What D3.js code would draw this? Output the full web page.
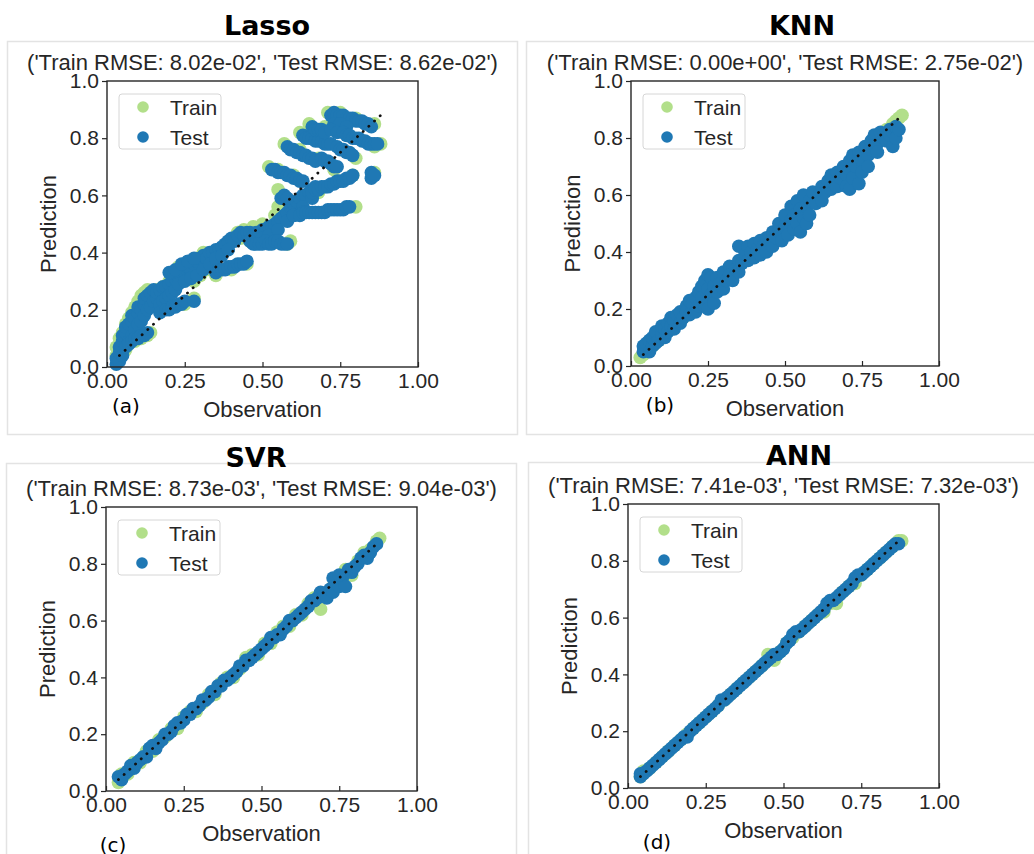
<!DOCTYPE html>
<html lang="en">
<head>
<meta charset="UTF-8">
<title>Observation vs Prediction</title>
<script src="https://cdnjs.cloudflare.com/ajax/libs/d3/7.8.5/d3.min.js"></script>
<style>
    body { margin: 0; background: #fff; }
    .tick text { font-family: "Liberation Sans", Arial, sans-serif; font-size: 21px; fill: #262626; }
    .tick line { stroke: #262626; stroke-width: 1.2; }
</style>
</head>
<body>
<div id="chart"></div>
<script>
// model names, subtitles and panel letters
const modelNames = ["Lasso", "KNN", "SVR", "ANN"];
const rmseLabels = [
    "('Train RMSE: 8.02e-02', 'Test RMSE: 8.62e-02')",
    "('Train RMSE: 0.00e+00', 'Test RMSE: 2.75e-02')",
    "('Train RMSE: 8.73e-03', 'Test RMSE: 9.04e-03')",
    "('Train RMSE: 7.41e-03', 'Test RMSE: 7.32e-03')"
];
const panelLetters = ["(a)", "(b)", "(c)", "(d)"];
const xTicks = [0, 0.25, 0.5, 0.75, 1.0];
const yTicks = [0, 0.2, 0.4, 0.6, 0.8, 1.0];
const refLine = [0.04, 0.88];

// [observation, prediction]
const lassoTrain = [
    [0.03,0.04],[0.03,0.07],[0.04,0.10],[0.05,0.12],[0.06,0.15],[0.07,0.17],[0.08,0.19],[0.09,0.21],[0.10,0.23],[0.11,0.25],
    [0.12,0.26],[0.13,0.27],[0.06,0.06],[0.09,0.09],[0.11,0.10],[0.13,0.11],[0.14,0.12],[0.16,0.27],[0.18,0.28],[0.20,0.30],
    [0.22,0.33],[0.23,0.35],[0.25,0.36],[0.27,0.37],[0.29,0.38],[0.31,0.40],[0.28,0.30],[0.30,0.32],[0.32,0.34],[0.35,0.32],
    [0.40,0.34],[0.45,0.36],[0.37,0.40],[0.40,0.44],[0.42,0.47],[0.43,0.45],[0.44,0.48],[0.47,0.49],[0.50,0.50],[0.54,0.53],
    [0.55,0.56],[0.55,0.62],[0.57,0.59],[0.58,0.43],[0.59,0.44],[0.60,0.55],[0.62,0.57],[0.65,0.60],[0.68,0.61],[0.52,0.70],
    [0.55,0.69],[0.60,0.67],[0.57,0.78],[0.62,0.76],[0.62,0.82],[0.66,0.80],[0.65,0.85],[0.70,0.84],[0.71,0.89],[0.75,0.89],
    [0.80,0.87],[0.86,0.85],[0.88,0.78],[0.86,0.77],[0.80,0.56],[0.79,0.67],[0.68,0.73],[0.73,0.69],[0.80,0.73],[0.25,0.22],
    [0.18,0.20],[0.28,0.24],[0.46,0.44],[0.86,0.68]
];
const lassoTest = [
    [0.03,0.01],[0.03,0.03],[0.04,0.02],[0.04,0.05],[0.04,0.07],[0.05,0.04],[0.05,0.09],[0.05,0.11],[0.06,0.07],[0.06,0.12],
    [0.06,0.14],[0.07,0.09],[0.07,0.15],[0.08,0.11],[0.08,0.16],[0.08,0.18],[0.09,0.13],[0.09,0.17],[0.10,0.15],[0.10,0.19],
    [0.10,0.21],[0.11,0.16],[0.11,0.20],[0.12,0.18],[0.12,0.22],[0.12,0.24],[0.13,0.20],[0.13,0.25],[0.14,0.21],[0.14,0.26],
    [0.15,0.23],[0.15,0.27],[0.16,0.24],[0.16,0.26],[0.17,0.27],[0.18,0.28],[0.19,0.28],[0.20,0.29],[0.21,0.30],[0.22,0.31],
    [0.23,0.32],[0.24,0.34],[0.25,0.33],[0.26,0.35],[0.27,0.34],[0.28,0.36],[0.29,0.37],[0.30,0.38],[0.31,0.39],[0.32,0.38],
    [0.33,0.40],[0.34,0.40],[0.35,0.41],[0.36,0.41],[0.37,0.42],[0.38,0.43],[0.39,0.44],[0.40,0.45],[0.41,0.44],[0.42,0.46],
    [0.43,0.47],[0.44,0.46],[0.45,0.47],
    [0.17,0.22],[0.18,0.23],[0.19,0.24],[0.20,0.25],[0.21,0.26],[0.22,0.27],[0.20,0.33],[0.22,0.34],[0.24,0.36],[0.26,0.37],
    [0.28,0.38],[0.23,0.29],[0.25,0.30],[0.27,0.31],[0.29,0.32],[0.31,0.34],[0.33,0.36],[0.35,0.38],[0.37,0.39],[0.39,0.41],
    [0.46,0.47],[0.47,0.46],[0.48,0.47],[0.49,0.47],[0.50,0.48],[0.51,0.48],[0.52,0.49],[0.53,0.49],[0.54,0.50],[0.55,0.51],
    [0.56,0.52],[0.57,0.53],[0.58,0.54],[0.59,0.56],[0.60,0.57],[0.61,0.58],[0.62,0.59],[0.63,0.60],[0.64,0.60],[0.65,0.61],
    [0.66,0.62],[0.67,0.63],[0.68,0.62],[0.56,0.59],[0.57,0.60],[0.58,0.59],
    [0.50,0.45],[0.52,0.46],[0.55,0.48],[0.58,0.51],[0.60,0.53],[0.63,0.56],[0.66,0.59],
    [0.07,0.08],[0.08,0.09],[0.09,0.10],[0.10,0.10],[0.11,0.11],[0.12,0.11],[0.13,0.12],
    [0.17,0.19],[0.19,0.20],[0.20,0.20],[0.21,0.21],[0.22,0.21],[0.23,0.22],[0.24,0.22],[0.25,0.23],[0.28,0.23],
    [0.35,0.33],[0.36,0.34],[0.37,0.34],[0.38,0.34],[0.39,0.35],[0.40,0.35],[0.41,0.35],[0.42,0.36],[0.43,0.36],[0.44,0.36],
    [0.45,0.37],
    [0.46,0.44],[0.47,0.43],[0.48,0.43],[0.49,0.43],[0.50,0.43],[0.51,0.44],[0.52,0.43],[0.53,0.43],[0.54,0.44],[0.55,0.44],
    [0.56,0.43],[0.57,0.43],[0.58,0.43],
    [0.60,0.53],[0.62,0.53],[0.63,0.54],[0.64,0.54],[0.65,0.54],[0.66,0.54],[0.67,0.54],[0.68,0.54],[0.69,0.54],[0.70,0.54],
    [0.71,0.55],[0.72,0.55],[0.73,0.55],[0.74,0.55],[0.75,0.55],[0.76,0.55],[0.77,0.56],[0.78,0.56],
    [0.66,0.61],[0.67,0.62],[0.68,0.62],[0.69,0.63],[0.70,0.63],[0.71,0.63],[0.72,0.64],[0.73,0.64],[0.74,0.65],[0.75,0.65],
    [0.76,0.65],[0.77,0.66],[0.78,0.66],[0.79,0.67],[0.85,0.66],[0.85,0.68],[0.86,0.67],
    [0.53,0.69],[0.54,0.69],[0.55,0.68],[0.56,0.68],[0.57,0.68],[0.58,0.67],[0.59,0.67],[0.60,0.66],[0.61,0.66],[0.62,0.65],
    [0.63,0.65],
    [0.58,0.77],[0.59,0.76],[0.60,0.76],[0.61,0.75],[0.62,0.75],[0.63,0.74],[0.64,0.74],[0.65,0.73],[0.66,0.73],[0.67,0.72],
    [0.63,0.81],[0.64,0.80],[0.65,0.80],[0.66,0.80],[0.67,0.79],[0.68,0.79],[0.69,0.79],[0.70,0.78],[0.71,0.78],[0.72,0.78],
    [0.66,0.84],[0.67,0.83],[0.68,0.83],[0.69,0.83],[0.70,0.82],
    [0.72,0.88],[0.73,0.89],[0.74,0.88],[0.75,0.88],[0.76,0.88],[0.77,0.87],[0.78,0.87],[0.79,0.87],[0.80,0.86],[0.81,0.86],
    [0.82,0.86],[0.83,0.85],[0.84,0.85],[0.85,0.84],[0.73,0.85],[0.75,0.85],[0.77,0.84],[0.72,0.83],[0.74,0.82],
    [0.76,0.82],[0.77,0.81],[0.78,0.81],[0.79,0.80],[0.80,0.80],[0.81,0.80],[0.82,0.79],[0.83,0.79],[0.84,0.78],[0.85,0.78],
    [0.86,0.78],[0.87,0.78],
    [0.69,0.73],[0.70,0.72],[0.71,0.72],[0.72,0.71],[0.73,0.70],[0.74,0.70],
    [0.74,0.77],[0.75,0.76],[0.76,0.76],[0.77,0.75],[0.78,0.75],[0.79,0.74]
];

const knnTrain = [
    [0.03,0.03],[0.04,0.04],[0.05,0.05],[0.07,0.07],[0.09,0.09],[0.11,0.11],[0.13,0.13],[0.15,0.15],[0.17,0.17],[0.19,0.19],
    [0.21,0.21],[0.23,0.23],[0.25,0.25],[0.27,0.27],[0.29,0.29],[0.31,0.31],[0.33,0.33],[0.35,0.35],[0.37,0.37],[0.39,0.39],
    [0.41,0.41],[0.43,0.43],[0.45,0.45],[0.47,0.47],[0.49,0.49],[0.51,0.51],[0.53,0.53],[0.55,0.55],[0.57,0.57],[0.59,0.59],
    [0.61,0.61],[0.63,0.63],[0.65,0.65],[0.67,0.67],[0.69,0.69],[0.71,0.71],[0.73,0.73],[0.75,0.75],[0.77,0.77],[0.79,0.79],
    [0.81,0.81],[0.83,0.83],[0.85,0.85],[0.86,0.86],[0.87,0.87],[0.88,0.88]
];
const knnTest = [
    [0.04,0.05],[0.04,0.07],[0.05,0.06],[0.05,0.08],[0.06,0.05],[0.06,0.09],[0.07,0.07],[0.07,0.10],[0.08,0.08],[0.08,0.12],
    [0.09,0.09],[0.10,0.11],[0.10,0.14],[0.11,0.10],[0.11,0.13],[0.12,0.15],[0.12,0.12],[0.13,0.17],[0.13,0.14],[0.14,0.13],
    [0.14,0.16],[0.15,0.18],[0.16,0.15],[0.16,0.19],[0.17,0.17],[0.18,0.21],[0.18,0.19],[0.19,0.23],[0.19,0.18],[0.20,0.20],
    [0.20,0.22],[0.21,0.19],[0.21,0.24],[0.22,0.26],[0.22,0.21],[0.23,0.28],[0.23,0.24],[0.24,0.30],[0.24,0.21],[0.25,0.32],
    [0.25,0.27],[0.25,0.20],[0.26,0.25],[0.26,0.31],[0.27,0.28],[0.27,0.22],[0.28,0.31],[0.28,0.26],[0.29,0.29],[0.30,0.33],
    [0.30,0.27],[0.31,0.30],[0.32,0.35],[0.32,0.32],[0.33,0.30],[0.34,0.34],[0.35,0.37],[0.35,0.33],[0.35,0.42],[0.36,0.36],
    [0.37,0.39],[0.38,0.42],[0.38,0.37],[0.39,0.40],[0.40,0.43],[0.40,0.38],[0.41,0.41],[0.42,0.44],[0.42,0.39],[0.43,0.42],
    [0.44,0.45],[0.44,0.40],[0.45,0.43],[0.46,0.47],[0.46,0.42],[0.47,0.45],[0.48,0.50],[0.48,0.47],[0.49,0.44],[0.50,0.49],
    [0.50,0.53],[0.51,0.46],[0.52,0.51],[0.52,0.56],[0.53,0.48],[0.53,0.53],[0.54,0.58],[0.54,0.50],[0.55,0.55],[0.55,0.47],
    [0.56,0.52],[0.56,0.60],[0.57,0.56],[0.57,0.50],[0.58,0.58],[0.58,0.53],[0.59,0.61],[0.60,0.57],[0.61,0.60],[0.62,0.63],
    [0.62,0.58],[0.63,0.61],[0.64,0.65],[0.65,0.62],[0.65,0.67],[0.66,0.64],[0.67,0.68],[0.67,0.63],[0.68,0.66],[0.69,0.70],
    [0.70,0.67],[0.70,0.63],[0.71,0.62],[0.71,0.72],[0.71,0.69],[0.72,0.74],[0.72,0.66],[0.73,0.70],[0.74,0.75],[0.74,0.64],
    [0.75,0.72],[0.75,0.68],[0.76,0.77],[0.77,0.74],[0.77,0.70],[0.78,0.79],[0.78,0.76],[0.79,0.81],[0.80,0.78],[0.80,0.75],
    [0.81,0.82],[0.82,0.80],[0.83,0.79],[0.84,0.83],[0.84,0.81],[0.85,0.77],[0.85,0.82],[0.86,0.84],[0.86,0.80],[0.87,0.83]
];

const svrTrain = [
    [0.04,0.03],[0.05,0.06],[0.07,0.06],[0.09,0.10],[0.11,0.10],[0.13,0.14],[0.15,0.14],[0.17,0.18],[0.19,0.19],[0.21,0.22],
    [0.23,0.22],[0.25,0.26],[0.27,0.28],[0.29,0.28],[0.31,0.31],[0.33,0.34],[0.35,0.34],[0.37,0.38],[0.39,0.40],[0.41,0.40],
    [0.43,0.43],[0.45,0.47],[0.47,0.48],[0.49,0.48],[0.51,0.52],[0.53,0.52],[0.55,0.56],[0.57,0.58],[0.59,0.58],[0.61,0.62],
    [0.63,0.62],[0.65,0.66],[0.67,0.68],[0.69,0.64],[0.71,0.70],[0.73,0.72],[0.75,0.74],[0.77,0.78],[0.79,0.76],[0.81,0.81],
    [0.83,0.84],[0.85,0.85],[0.87,0.88],[0.88,0.89]
];
const svrTest = [
    [0.04,0.05],[0.05,0.04],[0.06,0.06],[0.07,0.07],[0.08,0.09],[0.09,0.08],[0.10,0.10],[0.11,0.11],[0.12,0.12],[0.13,0.12],
    [0.14,0.15],[0.15,0.16],[0.16,0.15],[0.17,0.17],[0.18,0.18],[0.19,0.20],[0.20,0.20],[0.21,0.21],[0.22,0.23],[0.23,0.24],
    [0.24,0.24],[0.25,0.25],[0.26,0.27],[0.27,0.27],[0.28,0.29],[0.29,0.29],[0.30,0.30],[0.31,0.32],[0.32,0.32],[0.33,0.33],
    [0.34,0.35],[0.35,0.35],[0.36,0.37],[0.37,0.37],[0.38,0.39],[0.39,0.39],[0.40,0.40],[0.41,0.41],[0.42,0.42],[0.43,0.44],
    [0.44,0.44],[0.45,0.46],[0.46,0.46],[0.47,0.47],[0.48,0.48],[0.49,0.49],[0.50,0.50],[0.51,0.51],[0.52,0.52],[0.53,0.54],
    [0.54,0.54],[0.55,0.55],[0.56,0.55],[0.57,0.57],[0.58,0.58],[0.59,0.60],[0.60,0.60],[0.61,0.61],[0.62,0.62],[0.63,0.63],
    [0.64,0.64],[0.65,0.65],[0.66,0.67],[0.67,0.67],[0.68,0.68],[0.69,0.70],[0.70,0.69],[0.71,0.68],[0.72,0.71],[0.73,0.70],
    [0.74,0.74],[0.75,0.72],[0.76,0.75],[0.77,0.72],[0.78,0.78],[0.79,0.77],[0.80,0.79],[0.81,0.80],[0.82,0.82],[0.83,0.83],
    [0.84,0.82],[0.85,0.84],[0.86,0.86],[0.87,0.87],[0.73,0.75],[0.75,0.76]
];

const annTrain = [
    [0.04,0.04],[0.05,0.06],[0.07,0.07],[0.09,0.09],[0.11,0.11],[0.13,0.13],[0.15,0.15],[0.17,0.17],[0.19,0.19],[0.21,0.21],
    [0.23,0.23],[0.25,0.25],[0.27,0.27],[0.29,0.29],[0.31,0.31],[0.33,0.33],[0.35,0.35],[0.37,0.37],[0.39,0.39],[0.41,0.41],
    [0.43,0.43],[0.45,0.47],[0.47,0.45],[0.49,0.48],[0.51,0.51],[0.53,0.53],[0.55,0.55],[0.57,0.57],[0.59,0.59],[0.61,0.61],
    [0.63,0.62],[0.65,0.65],[0.67,0.65],[0.69,0.69],[0.71,0.71],[0.73,0.72],[0.75,0.75],[0.77,0.77],[0.79,0.79],[0.81,0.81],
    [0.83,0.83],[0.85,0.85],[0.87,0.87],[0.88,0.87]
];
const annTest = [
    [0.04,0.04],[0.04,0.05],[0.05,0.05],[0.06,0.06],[0.07,0.07],[0.08,0.08],[0.09,0.09],[0.10,0.10],[0.11,0.11],[0.12,0.12],
    [0.13,0.13],[0.14,0.14],[0.15,0.15],[0.16,0.16],[0.17,0.17],[0.18,0.18],[0.19,0.18],[0.20,0.20],[0.21,0.21],[0.22,0.22],
    [0.23,0.23],[0.24,0.24],[0.25,0.25],[0.26,0.26],[0.27,0.27],[0.28,0.28],[0.29,0.29],[0.30,0.31],[0.31,0.31],[0.32,0.32],
    [0.33,0.33],[0.34,0.34],[0.35,0.35],[0.36,0.36],[0.37,0.37],[0.38,0.38],[0.39,0.39],[0.40,0.40],[0.41,0.41],[0.42,0.42],
    [0.43,0.43],[0.44,0.44],[0.45,0.45],[0.46,0.46],[0.47,0.47],[0.48,0.47],[0.49,0.48],[0.50,0.49],[0.51,0.51],[0.52,0.52],
    [0.53,0.54],[0.54,0.55],[0.55,0.55],[0.56,0.56],[0.57,0.57],[0.58,0.58],[0.59,0.59],[0.60,0.60],[0.61,0.61],[0.62,0.62],
    [0.63,0.63],[0.64,0.65],[0.65,0.66],[0.66,0.66],[0.67,0.67],[0.68,0.68],[0.69,0.69],[0.70,0.70],[0.71,0.71],[0.72,0.72],
    [0.73,0.74],[0.74,0.75],[0.75,0.75],[0.76,0.76],[0.77,0.77],[0.78,0.78],[0.79,0.79],[0.80,0.80],[0.81,0.81],[0.82,0.82],
    [0.83,0.83],[0.84,0.84],[0.85,0.85],[0.86,0.86],[0.87,0.86]
];

const trainSets = [lassoTrain, knnTrain, svrTrain, annTrain];
const testSets = [lassoTest, knnTest, svrTest, annTest];

const trainColor = "#b2df8a";
const testColor = "#1f78b4";
const markerR = 6.8;

// layout for each panel: plot area + panel frame
const panels = [
    { left: 107, top: 81,  right: 418, bottom: 367, frame: [7, 41, 510, 393],   titleY: 35,  titleX: 267 },
    { left: 631, top: 81,  right: 939, bottom: 366, frame: [526, 41, 520, 393], titleY: 35,  titleX: 802 },
    { left: 106, top: 507, right: 417, bottom: 791, frame: [6, 463, 510, 400],  titleY: 467, titleX: 256 },
    { left: 628, top: 504, right: 939, bottom: 788, frame: [528, 462, 520, 400], titleY: 465, titleX: 799 }
];

const svg = d3.select("#chart").append("svg")
    .attr("width", 1034)
    .attr("height", 854);

panels.forEach((p, i) => {
    const g = svg.append("g");

    // light panel frame
    g.append("rect")
        .attr("x", p.frame[0] + 0.5).attr("y", p.frame[1] + 0.5)
        .attr("width", p.frame[2]).attr("height", p.frame[3])
        .attr("fill", "none")
        .attr("stroke", "#e3e3e3")
        .attr("stroke-width", 1.5);

    const x = d3.scaleLinear().domain([0, 1]).range([p.left, p.right]);
    const y = d3.scaleLinear().domain([0, 1]).range([p.bottom, p.top]);
    const cx = (p.left + p.right) / 2;
    const cy = (p.top + p.bottom) / 2;

    g.append("text")
        .attr("x", p.titleX).attr("y", p.titleY)
        .attr("text-anchor", "middle")
        .style("font-family", "DejaVu Sans, sans-serif")
        .style("font-weight", "bold")
        .style("font-size", "27px")
        .text(modelNames[i]);

    g.append("text")
        .attr("x", cx).attr("y", p.top - 11)
        .attr("text-anchor", "middle")
        .style("font-family", "Liberation Sans, Arial, sans-serif")
        .style("font-size", "22px")
        .style("fill", "#262626")
        .text(rmseLabels[i]);

    // points: train first, test over it
    g.append("g").selectAll("circle")
        .data(trainSets[i])
        .enter().append("circle")
        .attr("cx", d => x(d[0]))
        .attr("cy", d => y(d[1]))
        .attr("r", markerR)
        .attr("fill", trainColor);

    g.append("g").selectAll("circle")
        .data(testSets[i])
        .enter().append("circle")
        .attr("cx", d => x(d[0]))
        .attr("cy", d => y(d[1]))
        .attr("r", markerR)
        .attr("fill", testColor);

    // 1:1 dotted line
    g.append("line")
        .attr("x1", x(refLine[0])).attr("y1", y(refLine[0]))
        .attr("x2", x(refLine[1])).attr("y2", y(refLine[1]))
        .attr("stroke", "#111")
        .attr("stroke-width", 2.8)
        .attr("stroke-linecap", "round")
        .attr("stroke-dasharray", "0.1,7.6");

    // axes
    const xAxis = d3.axisBottom(x).tickValues(xTicks)
        .tickFormat(d3.format(".2f")).tickSize(-5).tickSizeOuter(0).tickPadding(6);
    const yAxis = d3.axisLeft(y).tickValues(yTicks)
        .tickFormat(d3.format(".1f")).tickSize(5).tickSizeOuter(0).tickPadding(3);

    g.append("g").attr("transform", `translate(0,${p.bottom})`).call(xAxis)
        .call(a => a.select(".domain").remove());
    g.append("g").attr("transform", `translate(${p.left},0)`).call(yAxis)
        .call(a => a.select(".domain").remove());

    g.append("rect")
        .attr("x", p.left).attr("y", p.top)
        .attr("width", p.right - p.left).attr("height", p.bottom - p.top)
        .attr("fill", "none")
        .attr("stroke", "#262626")
        .attr("stroke-width", 1.4);

    // axis titles
    g.append("text")
        .attr("x", cx).attr("y", p.bottom + 50)
        .attr("text-anchor", "middle")
        .style("font-family", "Liberation Sans, Arial, sans-serif")
        .style("font-size", "22px")
        .style("fill", "#262626")
        .text("Observation");

    g.append("text")
        .attr("transform", `translate(${p.left - 51},${cy}) rotate(-90)`)
        .attr("text-anchor", "middle")
        .style("font-family", "Liberation Sans, Arial, sans-serif")
        .style("font-size", "22px")
        .style("fill", "#262626")
        .text("Prediction");

    // legend
    const lg = g.append("g").attr("transform", `translate(${p.left + 12},${p.top + 13})`);
    lg.append("rect")
        .attr("width", 102).attr("height", 55).attr("rx", 3)
        .attr("fill", "white").attr("fill-opacity", 0.8)
        .attr("stroke", "#d6d6d6");
    [["Train", trainColor], ["Test", testColor]].forEach((e, k) => {
        lg.append("circle")
            .attr("cx", 24).attr("cy", 13 + k * 30)
            .attr("r", 5.8).attr("fill", e[1]);
        lg.append("text")
            .attr("x", 51).attr("y", 13 + k * 30)
            .attr("dy", "0.36em")
            .style("font-family", "Liberation Sans, Arial, sans-serif")
            .style("font-size", "21px")
            .style("fill", "#262626")
            .text(e[0]);
    });

    // panel letter
    g.append("text")
        .attr("x", p.left + (i % 2 === 0 ? 19 : 29) - (i === 2 ? 12 : 0))
        .attr("y", p.bottom + (i < 2 ? 46 : 61))
        .attr("text-anchor", "middle")
        .style("font-family", "DejaVu Sans, sans-serif")
        .style("font-size", "20px")
        .text(panelLetters[i]);
});
</script>
</body>
</html>
